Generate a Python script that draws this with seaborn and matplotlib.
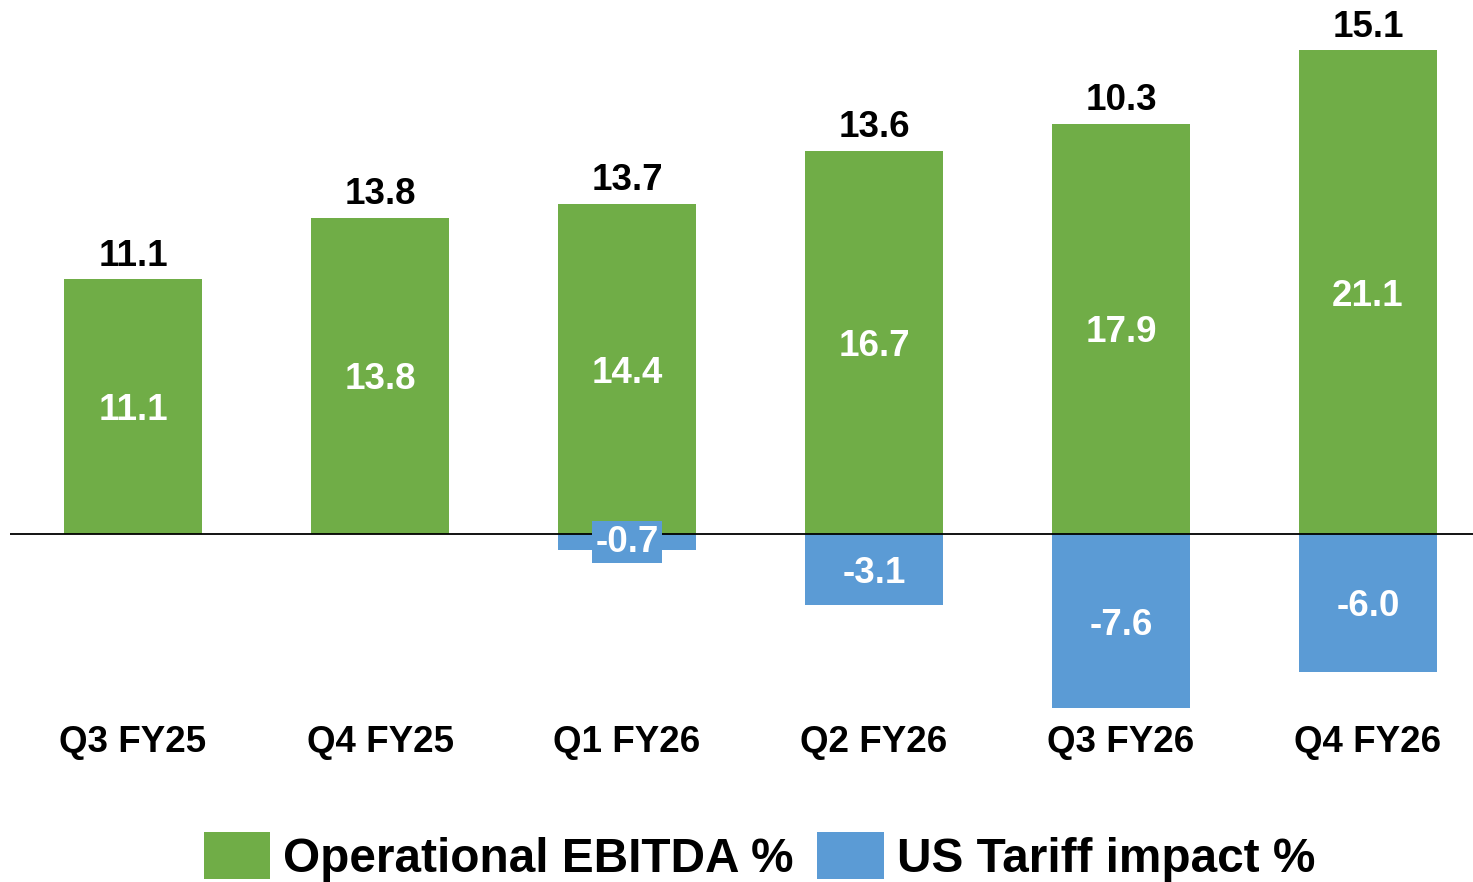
import matplotlib
matplotlib.use("Agg")
import matplotlib.pyplot as plt
import seaborn as sns
import pandas as pd
from matplotlib.patches import Patch

quarters = ["Q3 FY25", "Q4 FY25", "Q1 FY26", "Q2 FY26", "Q3 FY26", "Q4 FY26"]
ebitda = [11.1, 13.8, 14.4, 16.7, 17.9, 21.1]
tariff = [0.0, 0.0, -0.7, -3.1, -7.6, -6.0]
net = [11.1, 13.8, 13.7, 13.6, 10.3, 15.1]
series_names = ["Operational EBITDA %", "US Tariff impact %"]

GREEN = "#70AD47"
BLUE = "#5B9BD5"

sns.set_theme(style="white")
plt.rcParams["font.family"] = ["Liberation Sans", "DejaVu Sans"]
plt.rcParams["font.weight"] = "bold"
plt.rcParams["text.color"] = "black"

df = pd.DataFrame({"quarter": quarters, "ebitda": ebitda, "tariff": tariff, "net": net})

fig = plt.figure(figsize=(14.73, 8.82), dpi=100)
ax = fig.add_axes([10 / 1473, (882 - 710) / 882, 1463 / 1473, 700 / 882])

sns.barplot(data=df, x="quarter", y="ebitda", color=GREEN, width=0.555,
            saturation=1, linewidth=0, ax=ax, zorder=1)
sns.barplot(data=df, x="quarter", y="tariff", color=BLUE, width=0.555,
            saturation=1, linewidth=0, ax=ax, zorder=1)

ax.set_xlim(-0.498, 5.425)
ax.set_ylim(-7.675, 22.85)
ax.axhline(0, color="black", linewidth=1.3, zorder=2)

for s in ax.spines.values():
    s.set_visible(False)
ax.set_yticks([])
ax.set_xlabel("")
ax.set_ylabel("")
ax.tick_params(axis="x", length=0, pad=11, labelsize=26.5, labelcolor="black")
for lab in ax.get_xticklabels():
    lab.set_fontweight("bold")

fs = 26.5
for i, (e, t, n) in enumerate(zip(ebitda, tariff, net)):
    ax.annotate(f"{n:.1f}", xy=(i, e), xytext=(0, 4), textcoords="offset points",
                ha="center", va="bottom", fontsize=fs, fontweight="bold",
                color="black", zorder=3)
    ax.annotate(f"{e:.1f}", xy=(i, e / 2), xytext=(0, -3), textcoords="offset points",
                ha="center", va="center", fontsize=fs, fontweight="bold",
                color="white", zorder=3)
    if t < 0:
        kw = {}
        dy = -3
        if abs(t) < 1.5:
            kw["bbox"] = dict(boxstyle="square,pad=0.1", fc=BLUE, ec="none")
            dy = 0
        ax.annotate(f"{t:.1f}", xy=(i, t / 2), xytext=(0, dy), textcoords="offset points",
                    ha="center", va="center", fontsize=fs, fontweight="bold",
                    color="white", zorder=3, **kw)

handles = [Patch(facecolor=GREEN, edgecolor="none"), Patch(facecolor=BLUE, edgecolor="none")]
fig.legend(handles, series_names, loc="center", bbox_to_anchor=(0.5155, (882 - 857) / 882),
           ncol=2, frameon=False, prop={"weight": "bold", "size": 34.4},
           labelcolor="black",
           handlelength=1.39, handleheight=1.15, handletextpad=0.27,
           columnspacing=0.5, borderpad=0, borderaxespad=0)

fig.savefig("out.png", dpi=100)
